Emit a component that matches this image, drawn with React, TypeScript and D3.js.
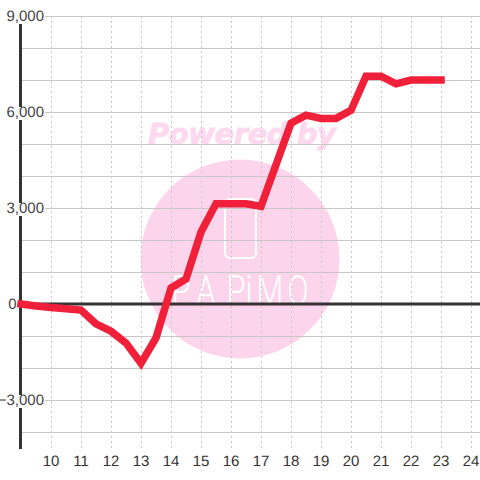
import React from "react";
import * as d3 from "d3";

const hours = [9,9.5,10,10.5,11,11.5,12,12.5,13,13.5,14,14.5,15,15.5,16,16.5,17,17.5,18,18.5,19,19.5,20,20.5,21,21.5,22,22.5,23];
const values = [0,-60,-110,-150,-190,-620,-850,-1220,-1850,-1060,500,780,2250,3130,3130,3130,3050,4350,5650,5900,5800,5800,6050,7120,7120,6880,7000,7000,7000];
const xTicks = [10,11,12,13,14,15,16,17,18,19,20,21,22,23,24];
const yGrid = [9000,8000,7000,6000,5000,4000,3000,2000,1000,-1000,-2000,-3000,-4000];
const yLabels = [9000,6000,3000,0,-3000];
const brandLetters = ["P","A","P","i","M","O"];

const x = d3.scaleLinear().domain([9, 24]).range([21, 471]);
const y = d3.scaleLinear().domain([9000, -4500]).range([16, 448]);
const fmt = d3.format(",");
const font = "'Liberation Sans', Arial, sans-serif";
const line = d3.line<number>().x((_, i) => x(hours[i])).y((d) => y(d));
const brandX = [181, 206, 236, 249, 270, 298];

export default function App() {
  return (
    <svg width={480} height={480} style={{ position: "absolute", left: 0, top: 0, background: "#fff" }}>
      <g>
        <circle cx={240} cy={259} r={99.5} fill="#fcd5ec" />
        <text x={148} y={144} fontFamily="'DejaVu Sans'" fontWeight="bold" fontStyle="italic" fontSize={29} fill="#fcd9ee" stroke="#fcd9ee" strokeWidth={0.8} textLength={188}>Powered by</text>
        <rect x={225} y={199} width={31} height={59} rx={5} fill="none" stroke="#fff" strokeWidth={2} />
        {brandLetters.map((c, i) => (
          <text key={i} transform={`translate(${brandX[i]} 305) scale(0.72 1)`} textAnchor="middle" fontFamily="Roboto" fontWeight={300} fontSize={43} fill="#fff">{c}</text>
        ))}
      </g>
      {yGrid.map((v) => (
        <line key={v} x1={22} x2={480} y1={y(v)} y2={y(v)} stroke="#c8c8c8" strokeWidth={1} shapeRendering="crispEdges" />
      ))}
      {xTicks.map((t) => (
        <line key={t} x1={x(t)} x2={x(t)} y1={16} y2={448} stroke="#c8c8c8" strokeWidth={1} strokeDasharray="2 3" shapeRendering="crispEdges" />
      ))}
      <line x1={20.5} x2={20.5} y1={24} y2={449} stroke="#333" strokeWidth={3} />
      <line x1={20} x2={480} y1={y(0)} y2={y(0)} stroke="#333" strokeWidth={3} />
      {yLabels.map((v) => {
        const s = fmt(v);
        return (
          <g key={v}>
            {v !== 0 && <rect x={1} y={y(v) - 5} width={44} height={13} fill="#fff" />}
            <text x={v === 0 ? 16.5 : 44} y={y(v) + 1} textAnchor="end" dominantBaseline="middle" fontFamily={font} fontSize={15} fill="#444" textRendering="geometricPrecision">{s}</text>
          </g>
        );
      })}
      {xTicks.map((t) => (
        <text key={t} x={x(t)} y={466} textAnchor="middle" fontFamily={font} fontSize={15} fill="#333" textRendering="geometricPrecision">{t}</text>
      ))}
      <path d={line(values) ?? ""} fill="none" stroke="#f0203a" strokeWidth={7.5} strokeLinecap="square" strokeLinejoin="miter" />
    </svg>
  );
}
